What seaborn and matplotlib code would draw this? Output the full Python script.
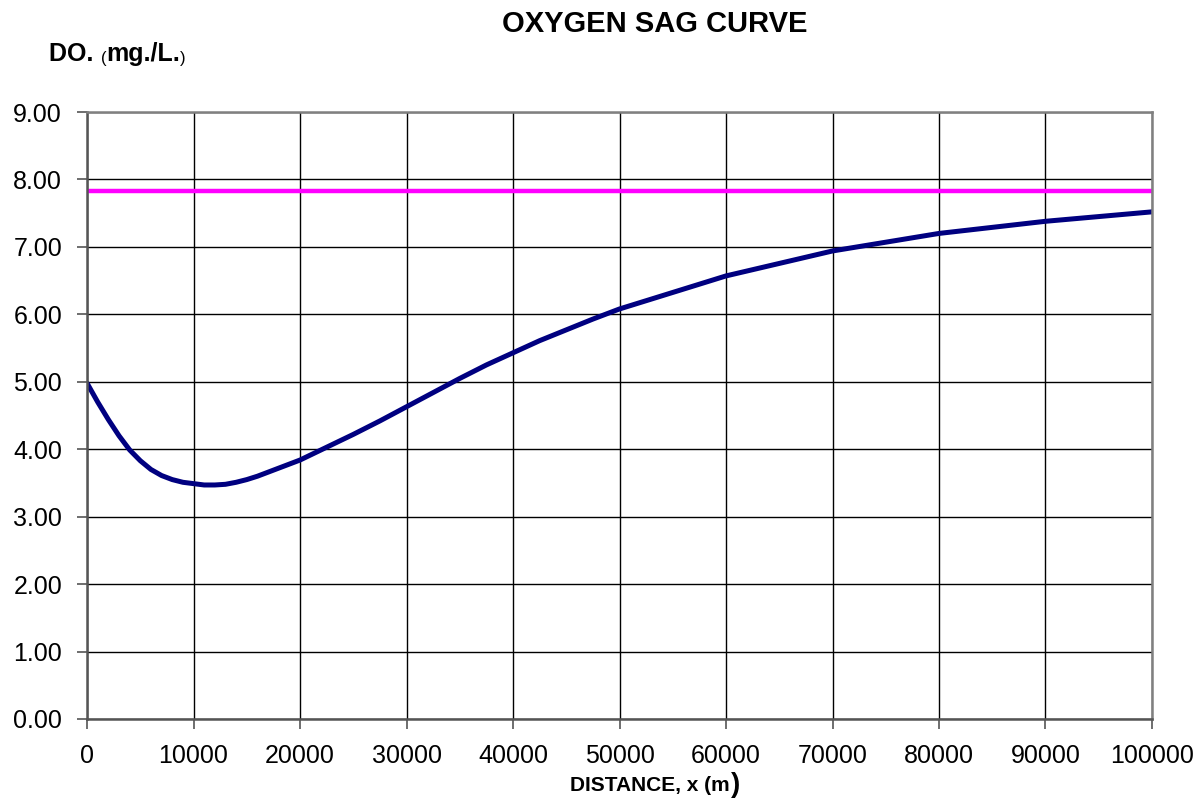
import matplotlib
matplotlib.use('Agg')
import matplotlib.pyplot as plt
import numpy as np
import pandas as pd
import seaborn as sns

# values
distance = [0, 1000, 2000, 3000, 4000, 5000, 6000, 7000, 8000, 9000, 10000,
            11000, 12000, 13000, 14000, 15000, 16000, 17000, 18000, 19000, 20000,
            22500, 25000, 27500, 30000, 32500, 35000, 37500, 40000, 42500, 45000,
            47500, 50000, 60000, 70000, 80000, 90000, 100000]
do_values = [4.98, 4.70, 4.44, 4.20, 3.99, 3.83, 3.70, 3.61, 3.55, 3.51, 3.49,
             3.47, 3.47, 3.48, 3.51, 3.55, 3.60, 3.66, 3.72, 3.78, 3.84,
             4.03, 4.22, 4.42, 4.63, 4.84, 5.05, 5.25, 5.43, 5.61, 5.77,
             5.93, 6.08, 6.57, 6.94, 7.20, 7.38, 7.52]
do_saturation = 7.83

x_ticks = list(range(0, 100001, 10000))
y_ticks = [0, 1, 2, 3, 4, 5, 6, 7, 8, 9]

df = pd.DataFrame({'distance': distance, 'DO': do_values})
df_sat = pd.DataFrame({'distance': [0, 100000], 'DO': [do_saturation, do_saturation]})

sns.set_style('white')
plt.rcParams['font.family'] = ['Liberation Sans', 'DejaVu Sans']
plt.rcParams['text.color'] = 'black'
plt.rcParams['xtick.color'] = 'black'
plt.rcParams['ytick.color'] = 'black'

fig = plt.figure(figsize=(12.04, 7.98), dpi=100)
ax = fig.add_axes([0.0723, 0.099, 0.8845, 0.7606])

sns.lineplot(data=df_sat, x='distance', y='DO', color='#FF00FF', linewidth=3.2, ax=ax)
sns.lineplot(data=df, x='distance', y='DO', color='#000080', linewidth=3.6, ax=ax)
for ln in ax.lines:
    ln.set_solid_joinstyle('round')

ax.set_xlim(0, 100000)
ax.set_ylim(0, 9)
ax.set_xticks(x_ticks)
ax.set_xticklabels([str(v) for v in x_ticks])
ax.set_yticks(y_ticks)
ax.set_yticklabels(['%.2f' % v for v in y_ticks])
ax.grid(True, color='black', linewidth=1)
ax.set_axisbelow(True)
ax.tick_params(axis='both', labelsize=18, length=7, width=1.2, color='#555555',
               labelcolor='black', direction='out', bottom=True, left=True)
ax.tick_params(axis='x', pad=11)
ax.tick_params(axis='y', pad=11)
for s in ax.spines.values():
    s.set_color('#808080')
    s.set_linewidth(1.8)
    s.set_visible(True)
ax.spines['bottom'].set_color('#555555')
ax.spines['left'].set_color('#555555')
ax.set_xlabel('')
ax.set_ylabel('')

# title
fig.text(0.544, 0.97, 'OXYGEN SAG CURVE', fontsize=21, fontweight='bold',
         ha='center', va='center', color='black')

# y label with mixed sizes
t1 = fig.text(0.041, 0.924, 'DO. ', fontsize=18, fontweight='bold', ha='left',
              va='baseline', color='black')
t2 = ax.annotate('(', xy=(1, 0), xycoords=t1, fontsize=12, ha='left', va='bottom',
                 color='black')
t3 = ax.annotate('mg./L.', xy=(1, 0), xycoords=t2, fontsize=18, fontweight='bold',
                 ha='left', va='bottom', color='black')
ax.annotate(')', xy=(1, 0), xycoords=t3, fontsize=12, ha='left', va='bottom',
            color='black')

# x label with a larger closing bracket
u1 = fig.text(0.4735, 0.004, 'DISTANCE, x (m', fontsize=15, fontweight='bold',
              ha='left', va='bottom', color='black')
ax.annotate(')', xy=(1, 0.5), xycoords=u1, xytext=(1, 0), textcoords='offset points',
            fontsize=20, fontweight='bold', ha='left', va='center', color='black')

fig.savefig('out.png', dpi=100)
